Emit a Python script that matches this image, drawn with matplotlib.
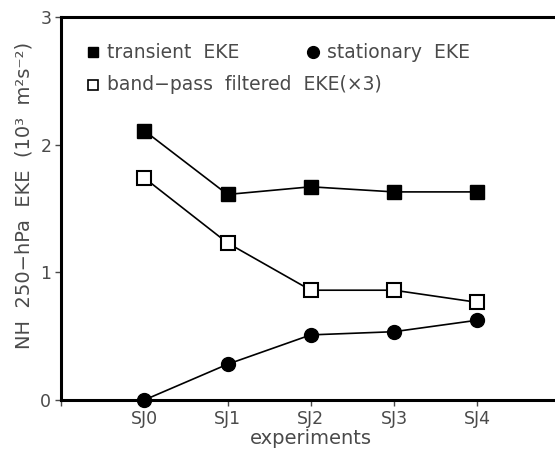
import matplotlib
matplotlib.use("Agg")
import matplotlib.pyplot as plt
from matplotlib.lines import Line2D

experiments = ["SJ0", "SJ1", "SJ2", "SJ3", "SJ4"]
transient_eke = [2.11, 1.61, 1.67, 1.63, 1.63]
bandpass_eke_x3 = [1.74, 1.23, 0.86, 0.86, 0.765]
stationary_eke = [0.0, 0.28, 0.51, 0.535, 0.625]

text_color = "#4a4a4a"
plt.rcParams["font.family"] = ["DejaVu Sans"]

fig = plt.figure(figsize=(5.55, 4.51), dpi=100)
ax = fig.add_axes([61 / 555, 1 - 400 / 451, 1 - 61 / 555 + 0.01, 383 / 451])

x = list(range(len(experiments)))
ax.plot(x, transient_eke, color="black", lw=1.2, marker="s", ms=9.5,
        mfc="black", mec="black", zorder=3, clip_on=False)
ax.plot(x, bandpass_eke_x3, color="black", lw=1.2, marker="s", ms=9.5,
        mfc="white", mec="black", mew=1.5, zorder=3, clip_on=False)
ax.plot(x, stationary_eke, color="black", lw=1.2, marker="o", ms=10,
        mfc="black", mec="black", zorder=3, clip_on=False)

ax.set_xlim(-1, 5)
ax.set_ylim(0, 3)
ax.set_xticks(range(-1, 6))
ax.set_xticklabels([""] + experiments + [""])
ax.set_yticks([0, 1, 2, 3])
ax.tick_params(direction="out", length=4, width=1, colors=text_color,
               labelsize=12.5, pad=3)
for side in ("left", "bottom", "top"):
    ax.spines[side].set_linewidth(2.2)
    ax.spines[side].set_color("black")
ax.spines["right"].set_visible(False)

ax.set_xlabel("experiments", fontsize=14, color=text_color, labelpad=1)
ax.set_ylabel("NH  250\u2212hPa  EKE  (10\u00b3  m\u00b2s\u207b\u00b2)",
              fontsize=14, color=text_color, labelpad=5, y=0.535)

# In-plot key
row1, row2 = 2.725, 2.47
ax.add_line(Line2D([-0.61], [row1], marker="s", ms=7, mfc="black",
                   mec="black", ls="none"))
ax.text(-0.45, row1, "transient  EKE", fontsize=13.5, color=text_color,
        va="center", ha="left")
ax.add_line(Line2D([2.03], [row1], marker="o", ms=8.5, mfc="black",
                   mec="black", ls="none"))
ax.text(2.2, row1, "stationary  EKE", fontsize=13.5, color=text_color,
        va="center", ha="left")
ax.add_line(Line2D([-0.61], [row2], marker="s", ms=7, mfc="white",
                   mec="black", mew=1.2, ls="none"))
ax.text(-0.45, row2, "band\u2212pass  filtered  EKE(\u00d73)", fontsize=13.5,
        color=text_color, va="center", ha="left")

fig.savefig("out.png", dpi=100)
